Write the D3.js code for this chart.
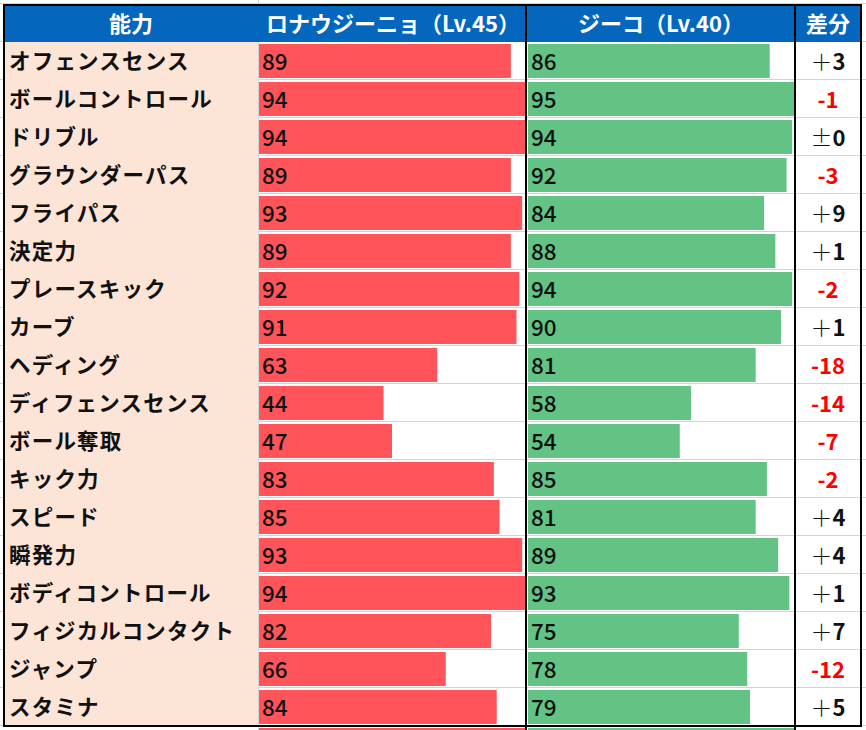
<!DOCTYPE html>
<html>
<head>
<meta charset="utf-8">
<script src="https://cdn.jsdelivr.net/npm/d3@7"></script>
<style>
  body { margin: 0; background: #fff; }
  svg { display: block; }
  text { font-family: "Noto Sans CJK JP", "Noto Sans", sans-serif; }
</style>
</head>
<body>
<svg id="chart" width="866" height="730"></svg>
<script>
const headers = ["能力", "ロナウジーニョ（Lv.45）", "ジーコ（Lv.40）", "差分"];
const abilities = ["オフェンスセンス","ボールコントロール","ドリブル","グラウンダーパス","フライパス","決定力","プレースキック","カーブ","ヘディング","ディフェンスセンス","ボール奪取","キック力","スピード","瞬発力","ボディコントロール","フィジカルコンタクト","ジャンプ","スタミナ"];
const ronaldinho = [89,94,94,89,93,89,92,91,63,44,47,83,85,93,94,82,66,84];
const zico = [86,95,94,92,84,88,94,90,81,58,54,85,81,89,93,75,78,79];
const diffs = [3,-1,0,-3,9,1,-2,1,-18,-14,-7,-2,4,4,1,7,-12,5];
const nextRowValues = [94, 95]; // partially visible row below the table

const svg = d3.select("#chart");
const W = 866, H = 730;
const n = abilities.length;
const rowH = 38, headTop = 4, bodyTop = 42;
const colX = [4, 258, 527, 795, 862];

const y = d3.scaleBand().domain(d3.range(n + 1)).range([bodyTop, bodyTop + rowH * (n + 1)]).paddingInner(0);
const xR = d3.scaleLinear().domain([0, d3.max(ronaldinho)]).range([259, 525]);
const xZ = d3.scaleLinear().domain([0, d3.max(zico)]).range([528, 795]);

const grid = "#d4d4d4";
// Excel gridlines background
const g0 = svg.append("g");
d3.range(n + 2).forEach(i => {
  const yy = bodyTop + i * rowH - 0.5;
  g0.append("line").attr("x1", 0).attr("x2", W).attr("y1", yy).attr("y2", yy).attr("stroke", grid).attr("stroke-width", 1);
});
[258.5].forEach(xx => g0.append("line").attr("x1", xx).attr("x2", xx).attr("y1", 0).attr("y2", H).attr("stroke", grid));
g0.append("line").attr("x1", 0).attr("x2", W).attr("y1", 3.5).attr("y2", 3.5).attr("stroke", grid);

// Header
svg.append("rect").attr("x", colX[0]).attr("y", headTop).attr("width", colX[4] - colX[0]).attr("height", bodyTop - headTop).attr("fill", "#0566BE");
const headCenters = [131, 393, 661, 828];
headers.forEach((h, i) => {
  svg.append("text").attr("x", headCenters[i]).attr("y", 21.5)
    .attr("text-anchor", "middle").attr("dominant-baseline", "central")
    .attr("fill", "#fff").attr("font-weight", 700).attr("font-size", 22)
    .text(h);
});

// Label column background
svg.append("rect").attr("x", colX[0]).attr("y", bodyTop).attr("width", colX[1] - colX[0]).attr("height", rowH * n).attr("fill", "#FCE4D6");

const rows = svg.append("g");
abilities.forEach((a, i) => {
  const top = y(i);
  rows.append("text").attr("x", 9).attr("y", top + 17).attr("dominant-baseline", "central")
    .attr("font-size", 21.5).attr("font-weight", 700).attr("letter-spacing", 1.2).attr("fill", "#111").text(a);
  rows.append("rect").attr("x", xR(0)).attr("y", top + 2).attr("width", xR(ronaldinho[i]) - xR(0)).attr("height", 34).attr("fill", "#FF555A");
  rows.append("rect").attr("x", xZ(0)).attr("y", top + 2).attr("width", xZ(zico[i]) - xZ(0)).attr("height", 34).attr("fill", "#63C384");
  rows.append("text").attr("x", xR(0) + 3).attr("y", top + 18).attr("dominant-baseline", "central")
    .attr("font-size", 22.5).attr("font-weight", 500).attr("fill", "#111").text(ronaldinho[i]);
  rows.append("text").attr("x", xZ(0) + 3).attr("y", top + 18).attr("dominant-baseline", "central")
    .attr("font-size", 22.5).attr("font-weight", 500).attr("fill", "#111").text(zico[i]);
  const d = diffs[i];
  const t = rows.append("text").attr("x", 828).attr("y", top + 18).attr("text-anchor", "middle").attr("dominant-baseline", "central").attr("font-size", 22);
  if (d < 0) {
    t.attr("fill", "#FF0000").attr("font-weight", 700).text("-" + Math.abs(d));
  } else {
    t.append("tspan").attr("fill", "#111").attr("font-weight", 300).text(d === 0 ? "±" : "＋");
    t.append("tspan").attr("fill", "#111").attr("font-weight", 700).text(Math.abs(d));
  }
});
// partial next row (cut off at the bottom of the view)
const topN = y(n) + 2;
svg.append("rect").attr("x", xR(0)).attr("y", topN).attr("width", xR(nextRowValues[0]) - xR(0)).attr("height", 34).attr("fill", "#FF555A");
svg.append("rect").attr("x", xZ(0)).attr("y", topN).attr("width", xZ(nextRowValues[1]) - xZ(0)).attr("height", 34).attr("fill", "#63C384");

// Borders
const b = svg.append("g").attr("stroke", "#000").attr("stroke-width", 2).attr("fill", "none");
b.append("rect").attr("x", 4).attr("y", 5).attr("width", 857).attr("height", 721);
[526, 795].forEach(xx => b.append("line").attr("x1", xx).attr("x2", xx).attr("y1", 4).attr("y2", H));
</script>
</body>
</html>
